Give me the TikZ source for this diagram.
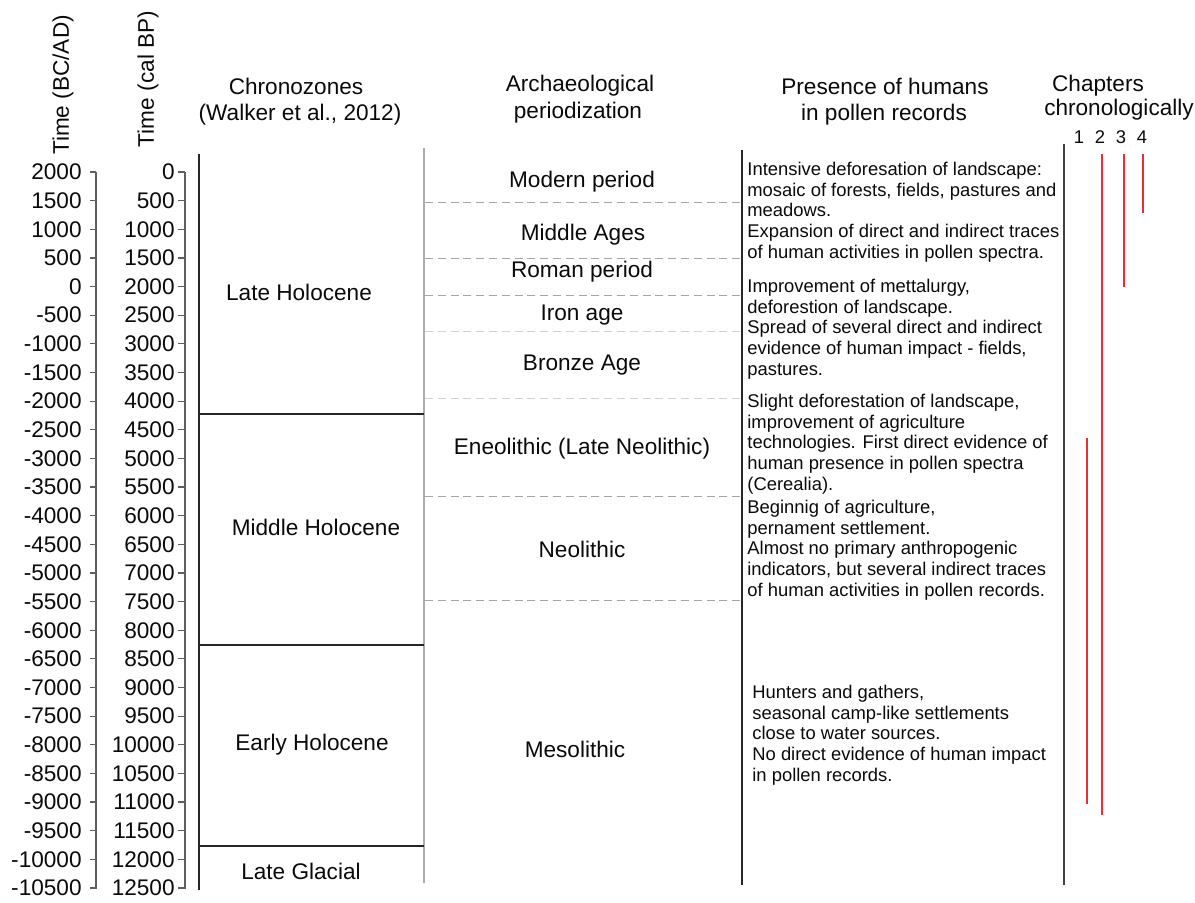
\documentclass[tikz,border=0pt]{standalone}
\usepackage{fontspec}
\setmainfont{Liberation Sans}
\definecolor{redline}{RGB}{235,45,55}
\definecolor{axisgray}{RGB}{95,95,95}
\definecolor{txt}{RGB}{10,10,10}
\begin{document}
\begin{tikzpicture}[x=0.5pt,y=-0.5pt,
  big/.style={font=\fontsize{11.3}{13.5}\selectfont, inner sep=0pt, text=txt},
  small/.style={font=\fontsize{9.2}{10.3}\selectfont, inner sep=0pt, align=left, anchor=north west, text=txt},
  num/.style={font=\fontsize{9.2}{11}\selectfont, inner sep=0pt, text=txt},
  tick/.style={font=\fontsize{11.3}{13}\selectfont, inner sep=0pt, anchor=east, text=txt},
  axis/.style={axisgray, line width=0.6pt},
  col/.style={black!85, line width=0.8pt},
  dline/.style={gray!70, dash pattern=on 4pt off 2.4pt, line width=0.5pt},
  dlight/.style={gray!35, dash pattern=on 4pt off 2.4pt, line width=0.5pt},
  chap/.style={redline, line width=0.85pt}
]
\useasboundingbox (0,0) rectangle (1195,902);

% axes
\draw[axis] (96,172) -- (96,889);
\draw[axis] (185,172) -- (185,889);
\foreach \k in {0,...,25} {
  \pgfmathsetmacro\yy{172+28.64*\k}
  \pgfmathtruncatemacro\lab{2000-500*\k}
  \pgfmathtruncatemacro\labb{500*\k}
  \draw[axis] (90,\yy) -- (96,\yy);
  \node[tick] (ba\k) at (82,\yy) {\lab};
  \draw[axis] (178,\yy) -- (185,\yy);
  \node[tick] (bp\k) at (175,\yy) {\labb};
}
\node[big, rotate=90] (tba) at (63,85) {Time (BC/AD)};
\node[big, rotate=90] (tbp) at (148,79) {Time (cal BP)};

% column borders
\draw[col] (199,154) -- (199,890);
\draw[gray!65, line width=1pt] (424,148) -- (424,883);
\draw[col] (742,150) -- (742,885);
\draw[black!75, line width=0.8pt] (1064,144) -- (1064,885);

% chronozone boundaries
\draw[col] (199,414) -- (424,414);
\draw[col] (199,645) -- (424,645);
\draw[col] (199,846) -- (424,846);

% archaeological boundaries
\draw[dline] (425,202) -- (740,202);
\draw[dline] (425,258) -- (740,258);
\draw[dline] (425,295) -- (740,295);
\draw[dlight] (425,331) -- (740,331);
\draw[dlight] (425,398) -- (740,398);
\draw[dline] (425,496) -- (740,496);
\draw[dline] (425,600) -- (740,600);

% headers
\node[big] (h1a) at (296,86) {Chronozones};
\node[big] (h1b) at (300,115) {(Walker et al., 2012)};
\node[big] (h2a) at (580,86) {Archaeological};
\node[big] (h2b) at (578,113) {periodization};
\node[big] (h3a) at (885,86) {Presence of humans};
\node[big] (h3b) at (884,115) {in pollen records};
\node[big] (h4a) at (1098,86) {Chapters};
\node[big] (h4b) at (1119,110) {chronologically};
\node[num] (n1) at (1079,137) {1};
\node[num] (n2) at (1100,137) {2};
\node[num] (n3) at (1121,137) {3};
\node[num] (n4) at (1142,137) {4};

% chronozones
\node[big] (cz1) at (299,292) {Late Holocene};
\node[big] (cz2) at (316,527) {Middle Holocene};
\node[big] (cz3) at (312,745) {Early Holocene};
\node[big] (cz4) at (301,871) {Late Glacial};

% archaeological periods
\node[big] (ap1) at (582,182) {Modern period};
\node[big] (ap2) at (583,235) {Middle Ages};
\node[big] (ap3) at (582,272) {Roman period};
\node[big] (ap4) at (582,315) {Iron age};
\node[big] (ap5) at (582,365) {Bronze Age};
\node[big] (ap6) at (582,449) {Eneolithic (Late Neolithic)};
\node[big] (ap7) at (582,549) {Neolithic};
\node[big] (ap8) at (575,749) {Mesolithic};

% presence of humans
\node[small] (p1) at (747,162) {Intensive deforesation of landscape:\\mosaic of forests, fields, pastures and\\meadows.\\Expansion of direct and indirect traces\\of human activities in pollen spectra.};
\node[small] (p2) at (747,279) {Improvement of mettalurgy,\\deforestion of landscape.\\Spread of several direct and indirect\\evidence of human impact - fields,\\pastures.};
\node[small] (p3) at (747,394) {Slight deforestation of landscape,\\improvement of agriculture\\technologies. First direct evidence of\\human presence in pollen spectra\\(Cerealia).};
\node[small] (p4) at (747,500) {Beginnig of agriculture,\\pernament settlement.\\Almost no primary anthropogenic\\indicators, but several indirect traces\\of human activities in pollen records.};
\node[small] (p5) at (752,685) {Hunters and gathers,\\seasonal camp-like settlements\\close to water sources.\\No direct evidence of human impact\\in pollen records.};

% chapter lines
\coordinate (c1t) at (1087,438); \coordinate (c1b) at (1087,804);
\coordinate (c2t) at (1102,154); \coordinate (c2b) at (1102,815);
\coordinate (c3t) at (1124,154); \coordinate (c3b) at (1124,287);
\coordinate (c4t) at (1143,154); \coordinate (c4b) at (1143,213);
\draw[chap] (c1t) -- (c1b);
\draw[chap] (c2t) -- (c2b);
\draw[chap] (c3t) -- (c3b);
\draw[chap] (c4t) -- (c4b);
\end{tikzpicture}
\end{document}
